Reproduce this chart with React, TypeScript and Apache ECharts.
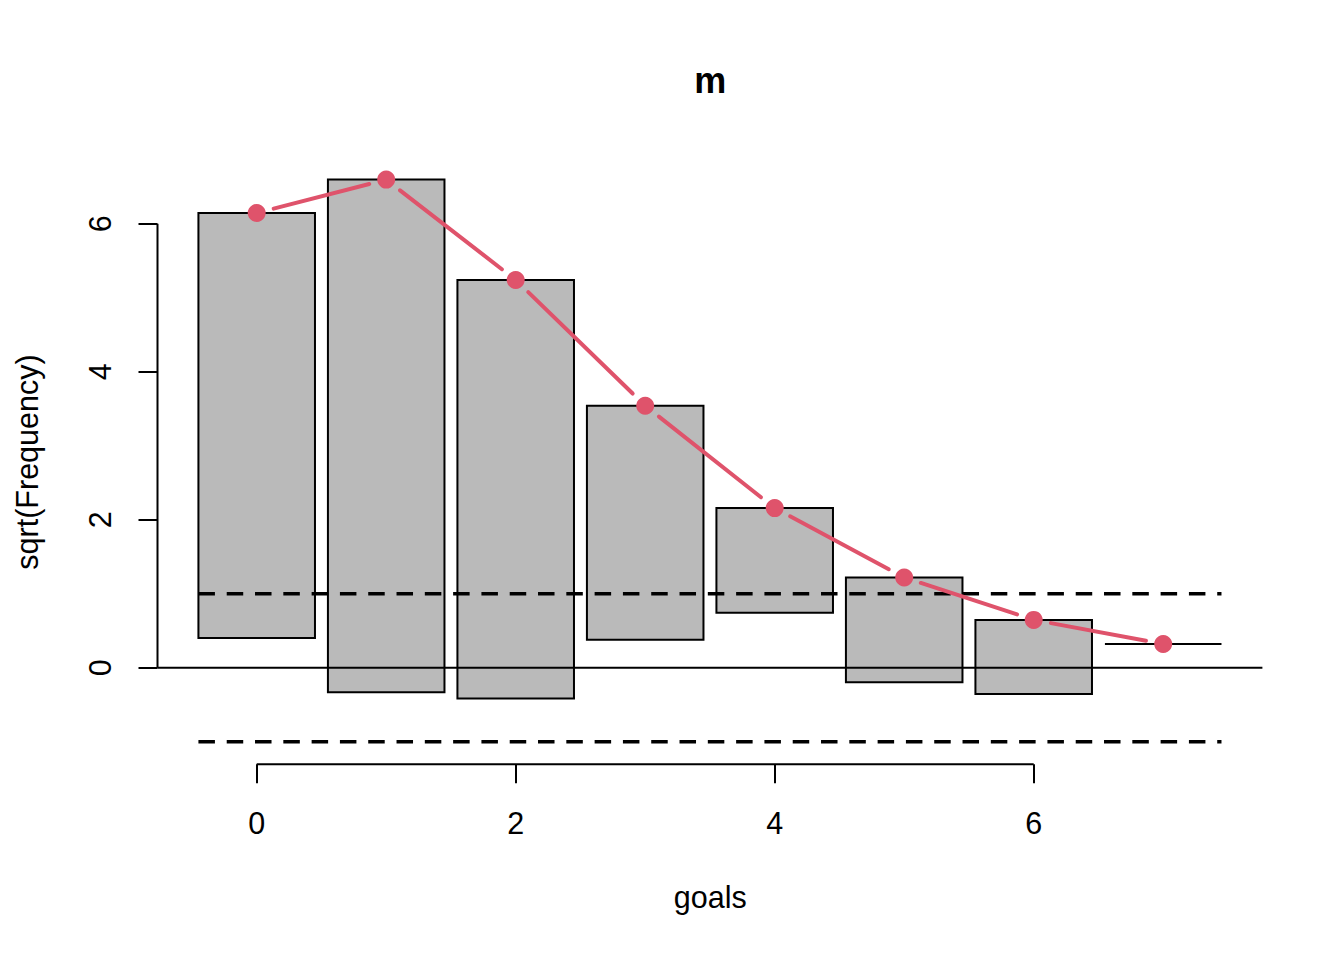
import React, { useEffect, useRef } from "react";
import * as echarts from "echarts";

// ---- data ----
const goals = [0, 1, 2, 3, 4, 5, 6, 7];
const observedFreq = [33, 48, 32, 10, 2, 2, 1, 0];
const expectedSqrt = [6.145, 6.596, 5.24, 3.54, 2.157, 1.219, 0.646, 0.321];
const xTicks = [0, 2, 4, 6];
const yTicks = [0, 2, 4, 6];
const refLevels = [1, -1];

const FONT = "'Liberation Sans', Arial, Helvetica, sans-serif";
const RED = "#DF536B";
const GREY = "#BABABA";
const FS = 30.5;

export default function App() {
  const ref = useRef<HTMLDivElement>(null);

  useEffect(() => {
    const chart = echarts.init(ref.current as HTMLDivElement, null, { renderer: "svg" });

    const X_MIN = -0.766, X_MAX = 7.766, Y_MIN = -1.304, Y_MAX = 6.904;
    const halfW = 0.45;

    const barData = goals.map((g, i) => [g, expectedSqrt[i], expectedSqrt[i] - Math.sqrt(observedFreq[i])]);
    const segData = goals.slice(0, -1).map((g, i) => [g, expectedSqrt[i], goals[i + 1], expectedSqrt[i + 1]]);
    const pointData = goals.map((g, i) => [g, expectedSqrt[i]]);

    const lineSeries = (data: number[][], style: any, z: number) => ({
      type: "line",
      data,
      showSymbol: false,
      symbol: "none",
      silent: true,
      clip: false,
      z,
      lineStyle: style,
      animation: false,
    });

    const option: any = {
      animation: false,
      grid: {
        left: 157.5,
        top: 156.8,
        width: 1104.9,
        height: 607.4,
        containLabel: false,
        outerBoundsMode: "none",
      },
      xAxis: {
        type: "value",
        min: X_MIN,
        max: X_MAX,
        axisLine: { show: false, onZero: false },
        splitLine: { show: false },
        axisTick: {
          show: true,
          customValues: xTicks,
          length: 19,
          lineStyle: { color: "#000", width: 2 },
        },
        axisLabel: {
          show: true,
          customValues: xTicks,
          margin: 43,
          fontSize: FS,
          fontFamily: FONT,
          color: "#000",
        },
      },
      yAxis: {
        type: "value",
        min: Y_MIN,
        max: Y_MAX,
        axisLine: { show: false, onZero: false },
        splitLine: { show: false },
        axisTick: {
          show: true,
          customValues: yTicks,
          length: 19,
          lineStyle: { color: "#000", width: 2 },
        },
        axisLabel: {
          show: true,
          customValues: yTicks,
          rotate: 90,
          margin: 42,
          fontSize: FS,
          fontFamily: FONT,
          color: "#000",
        },
      },
      graphic: [
        {
          type: "text",
          x: 710.3,
          y: 80.5,
          style: {
            text: "m",
            fontSize: 36,
            fontWeight: "bold",
            fontFamily: FONT,
            fill: "#000",
            align: "center",
            verticalAlign: "middle",
          },
        },
        {
          type: "text",
          x: 710.3,
          y: 896.7,
          style: {
            text: "goals",
            fontSize: FS,
            fontFamily: FONT,
            fill: "#000",
            align: "center",
            verticalAlign: "middle",
          },
        },
        {
          type: "text",
          x: 26.9,
          y: 462,
          rotation: Math.PI / 2,
          style: {
            text: "sqrt(Frequency)",
            fontSize: FS,
            fontFamily: FONT,
            fill: "#000",
            align: "center",
            verticalAlign: "middle",
          },
        },
      ],
      series: [
        {
          type: "custom",
          z: 1,
          silent: true,
          clip: false,
          data: barData,
          encode: { x: 0, y: [1, 2] },
          renderItem: (params: any, api: any) => {
            const x = api.value(0);
            const p1 = api.coord([x - halfW, api.value(1)]);
            const p2 = api.coord([x + halfW, api.value(2)]);
            return {
              type: "rect",
              shape: { x: p1[0], y: p1[1], width: p2[0] - p1[0], height: p2[1] - p1[1] },
              style: { fill: GREY, stroke: "#000", lineWidth: 2 },
            };
          },
        },
        // axis lines (only over the tick range, as in R)
        lineSeries([[xTicks[0], Y_MIN], [xTicks[xTicks.length - 1], Y_MIN]], { color: "#000", width: 2 }, 2),
        lineSeries([[X_MIN, yTicks[0]], [X_MIN, yTicks[yTicks.length - 1]]], { color: "#000", width: 2 }, 2),
        // zero line
        lineSeries([[X_MIN, 0], [X_MAX, 0]], { color: "#000", width: 2 }, 2),
        // reference lines at +-1
        ...refLevels.map((lv) =>
          lineSeries(
            [[goals[0] - halfW, lv], [goals[goals.length - 1] + halfW, lv]],
            { color: "#000", width: 3.5, type: [16.5, 11.8], cap: "butt" },
            2
          )
        ),
        // expected line with gaps (type = "b")
        {
          type: "custom",
          z: 3,
          silent: true,
          clip: false,
          data: segData,
          encode: { x: [0, 2], y: [1, 3] },
          renderItem: (params: any, api: any) => {
            const a = api.coord([api.value(0), api.value(1)]);
            const b = api.coord([api.value(2), api.value(3)]);
            const dx = b[0] - a[0];
            const dy = b[1] - a[1];
            const len = Math.hypot(dx, dy);
            const gap = 17.5;
            if (len <= 2 * gap) return null;
            const ux = dx / len;
            const uy = dy / len;
            return {
              type: "line",
              shape: {
                x1: a[0] + ux * gap,
                y1: a[1] + uy * gap,
                x2: b[0] - ux * gap,
                y2: b[1] - uy * gap,
              },
              style: { stroke: RED, lineWidth: 4, lineCap: "round" },
            };
          },
        },
        {
          type: "scatter",
          z: 4,
          silent: true,
          data: pointData,
          symbol: "circle",
          symbolSize: 18,
          itemStyle: { color: RED, opacity: 1 },
        },
      ],
    };

    chart.setOption(option);
    return () => {
      chart.dispose();
    };
  }, []);

  return (
    <div
      ref={ref}
      style={{ position: "absolute", left: 0, top: 0, width: 1344, height: 960, background: "#fff" }}
    />
  );
}
